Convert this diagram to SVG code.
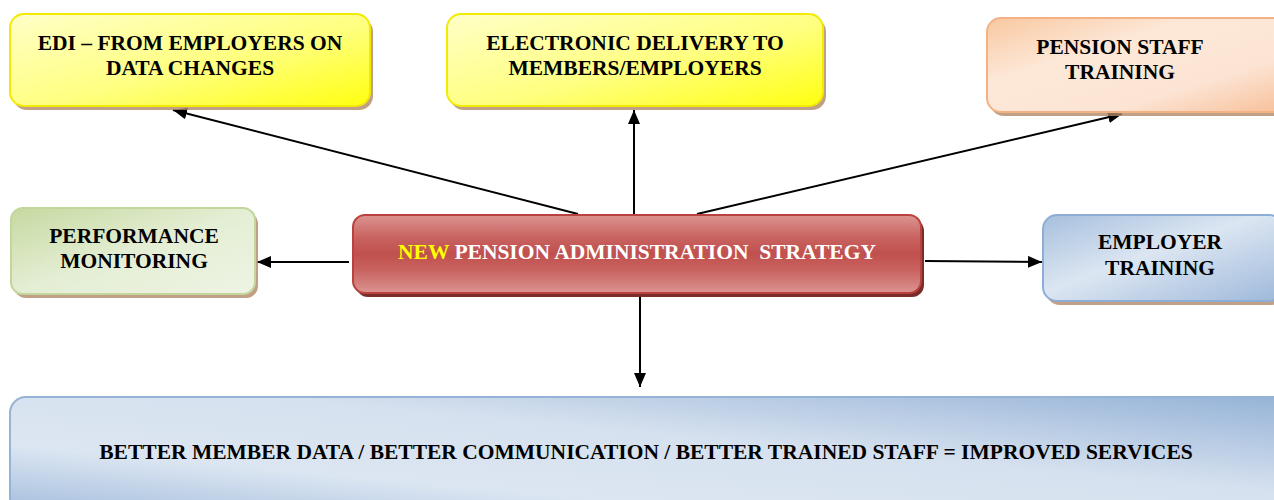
<svg xmlns="http://www.w3.org/2000/svg" width="1274" height="500" viewBox="0 0 1274 500">
<defs>
<linearGradient id="gY" x1="0" y1="0" x2="1" y2="1"><stop offset="0" stop-color="#ffffc8"/><stop offset="0.55" stop-color="#ffff80"/><stop offset="1" stop-color="#ffff10"/></linearGradient>
<linearGradient id="gO" x1="0" y1="0" x2="1" y2="1"><stop offset="0" stop-color="#f8c8a0"/><stop offset="0.35" stop-color="#fde8d8"/><stop offset="0.7" stop-color="#fce4d4"/><stop offset="1" stop-color="#f7bf98"/></linearGradient>
<linearGradient id="gG" x1="0" y1="0" x2="1" y2="1"><stop offset="0" stop-color="#c6d9a0"/><stop offset="0.5" stop-color="#e4eed4"/><stop offset="1" stop-color="#eef4e4"/></linearGradient>
<linearGradient id="gB" x1="0" y1="0" x2="1" y2="1"><stop offset="0" stop-color="#a6bfdd"/><stop offset="0.45" stop-color="#dce6f2"/><stop offset="1" stop-color="#9db8da"/></linearGradient>
<linearGradient id="gBot" x1="0" y1="1" x2="1" y2="0"><stop offset="0" stop-color="#9fbadb"/><stop offset="0.3" stop-color="#dce6f2"/><stop offset="0.6" stop-color="#d6e1ef"/><stop offset="1" stop-color="#95b3d7"/></linearGradient>
<linearGradient id="gR" x1="0" y1="0" x2="0" y2="1"><stop offset="0" stop-color="#dc9492"/><stop offset="0.3" stop-color="#c8625f"/><stop offset="0.5" stop-color="#c0504d"/><stop offset="0.7" stop-color="#c8625f"/><stop offset="1" stop-color="#dc9492"/></linearGradient>
<marker id="ahs" markerWidth="14" markerHeight="12" refX="14" refY="6" orient="auto" markerUnits="userSpaceOnUse"><path d="M0,0 L14,6 L0,12 z" fill="#000"/></marker>
<style>
.t{font-family:"Liberation Serif","Times New Roman",serif;font-weight:bold;font-size:21.5px;text-anchor:middle;fill:#000;white-space:pre}
.sh{fill:#b08868;opacity:0.8}
.shd{fill:#7a2c2a}
.c{stroke:#000;stroke-width:2;fill:none;marker-end:url(#ahs)}
</style>
</defs>
<rect width="1274" height="500" fill="#fff"/>
<g id="connectors">
<line class="c" x1="578" y1="214" x2="173" y2="110"/>
<line class="c" x1="634" y1="214" x2="634" y2="110"/>
<line class="c" x1="697" y1="214" x2="1122" y2="114"/>
<line class="c" x1="349" y1="262" x2="257" y2="262"/>
<line class="c" x1="925" y1="261" x2="1042" y2="262"/>
<line class="c" x1="640" y1="296" x2="640" y2="387"/>
</g>
<g id="edi">
<rect class="sh" x="13" y="18" width="360" height="92" rx="14"/>
<rect x="10" y="14" width="360" height="92" rx="14" fill="url(#gY)" stroke="#f2ea00" stroke-width="2"/>
<text class="t" x="190" y="50">EDI – FROM EMPLOYERS ON</text>
<text class="t" x="190" y="75">DATA CHANGES</text>
</g>
<g id="electronic">
<rect class="sh" x="450" y="18" width="376" height="92" rx="14"/>
<rect x="447" y="14" width="376" height="92" rx="14" fill="url(#gY)" stroke="#f2ea00" stroke-width="2"/>
<text class="t" x="635" y="50">ELECTRONIC DELIVERY TO</text>
<text class="t" x="635" y="75">MEMBERS/EMPLOYERS</text>
</g>
<g id="staff">
<rect class="sh" x="990" y="22" width="300" height="94" rx="14"/>
<rect x="987" y="18" width="300" height="94" rx="14" fill="url(#gO)" stroke="#f4b183" stroke-width="2"/>
<text class="t" x="1120" y="54">PENSION STAFF</text>
<text class="t" x="1120" y="79">TRAINING</text>
</g>
<g id="performance">
<rect class="sh" x="14" y="212" width="244" height="86" rx="12"/>
<rect x="11" y="208" width="244" height="86" rx="12" fill="url(#gG)" stroke="#c3d69b" stroke-width="2"/>
<text class="t" x="134" y="243">PERFORMANCE</text>
<text class="t" x="134" y="268">MONITORING</text>
</g>
<g id="strategy">
<rect class="shd" x="356" y="219" width="568" height="78" rx="12"/>
<rect x="353" y="215" width="568" height="78" rx="12" fill="url(#gR)" stroke="#b9423f" stroke-width="2"/>
<text class="t" x="637" y="259"><tspan fill="#ffff00">NEW</tspan><tspan fill="#fff"> PENSION ADMINISTRATION  STRATEGY</tspan></text>
</g>
<g id="employer">
<rect class="sh" x="1046" y="219" width="240" height="86" rx="14"/>
<rect x="1043" y="215" width="240" height="86" rx="14" fill="url(#gB)" stroke="#8eadd4" stroke-width="2"/>
<text class="t" x="1160" y="249">EMPLOYER</text>
<text class="t" x="1160" y="275">TRAINING</text>
</g>
<g id="outcome">
<rect x="10" y="397" width="1280" height="120" rx="16" fill="url(#gBot)" stroke="#95b3d7" stroke-width="2"/>
<text class="t" x="646" y="459">BETTER MEMBER DATA / BETTER COMMUNICATION / BETTER TRAINED STAFF = IMPROVED SERVICES</text>
</g>
</svg>
